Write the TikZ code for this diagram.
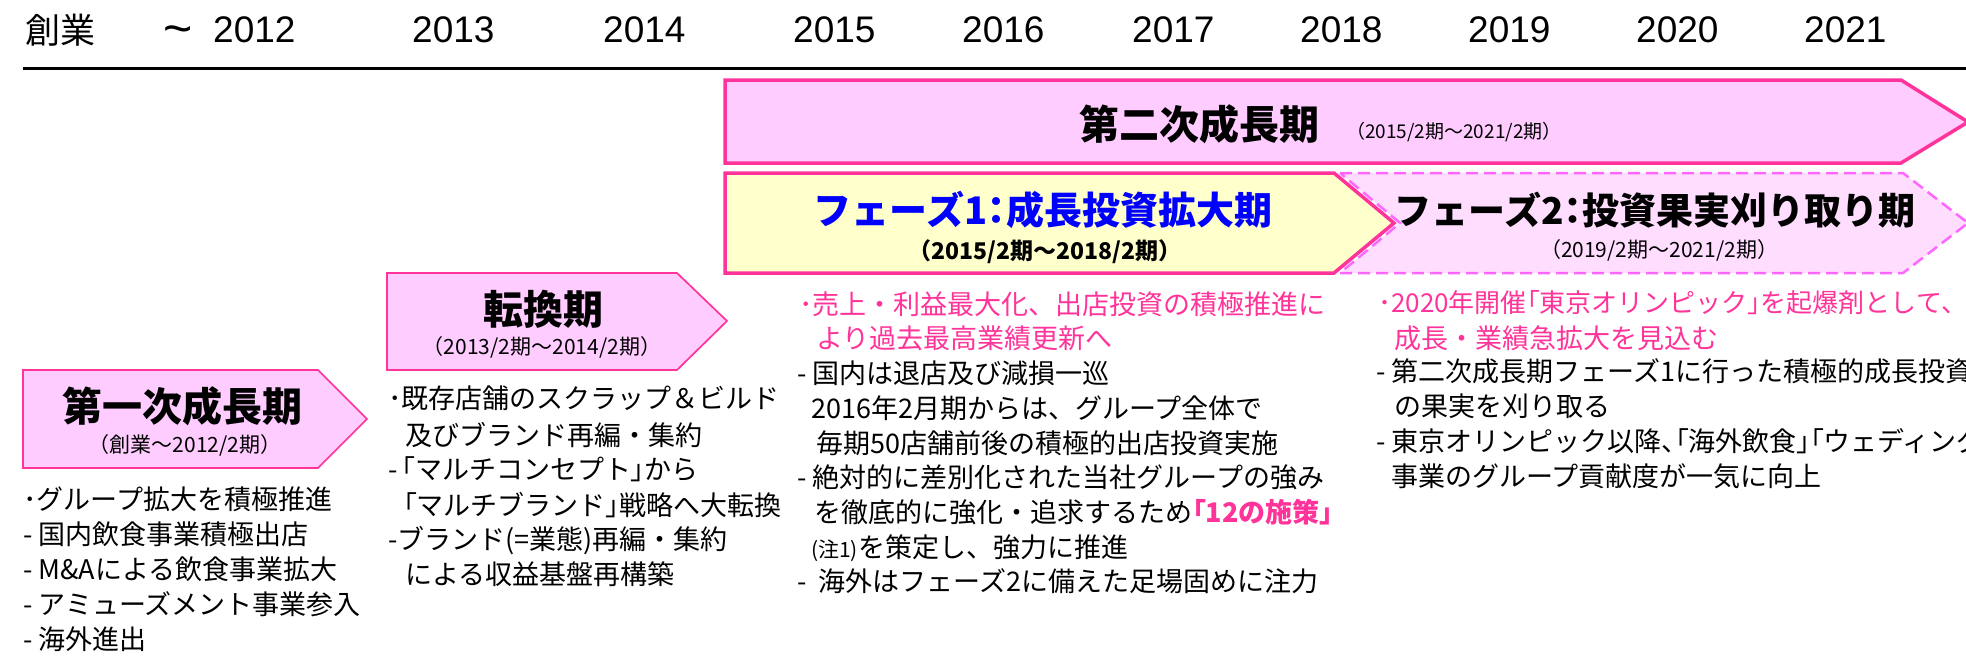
\documentclass[tikz,border=0pt]{standalone}
\usepackage{fontspec}
\setmainfont{Noto Sans CJK JP}
\newfontfamily\arialf{Liberation Sans}
\newcommand{\pb}[1]{{\addfontfeature{RawFeature=+palt}#1}}
\definecolor{pk}{HTML}{FF3399}
\definecolor{pkfill}{HTML}{FFCCFF}
\definecolor{pklight}{HTML}{FFDDFF}
\definecolor{pkdash}{HTML}{FF66FF}
\definecolor{yel}{HTML}{FFFFCC}
\definecolor{blu}{HTML}{0000FF}
\begin{document}
\begin{tikzpicture}[x=1pt,y=-1pt,
  yr/.style={anchor=base west,inner sep=0pt,font=\arialf\fontsize{37}{40}\selectfont},
  hd/.style={anchor=base west,inner sep=0pt,font=\fontsize{35}{38}\selectfont},
  txa/.style={anchor=base west,inner sep=0pt,font=\fontsize{27}{30}\selectfont},
  txb/.style={anchor=base west,inner sep=0pt,font=\fontsize{27}{30}\selectfont},
  ttl/.style={anchor=base,inner sep=0pt,font=\bfseries\fontsize{40}{44}\selectfont},
  sub/.style={anchor=base,inner sep=0pt,font=\fontsize{21}{24}\selectfont},
  bigbox/.style={draw=pk,line width=3.5pt,line join=miter},
  smallbox/.style={draw=pk,fill=pkfill,line width=1.7pt,line join=miter}
]
\useasboundingbox (0,0) rectangle (1966,662);
\clip (0,0) rectangle (1966,662);

% header
\node[hd] (h0) at (25,43) {創業};
\node[yr,font=\arialf\fontsize{50}{52}\selectfont] (ht) at (163,45) {\char`~};
\node[yr] (y12) at (213,42) {2012};
\node[yr] (y13) at (412,42) {2013};
\node[yr] (y14) at (603,42) {2014};
\node[yr] (y15) at (793,42) {2015};
\node[yr] (y16) at (962,42) {2016};
\node[yr] (y17) at (1132,42) {2017};
\node[yr] (y18) at (1300,42) {2018};
\node[yr] (y19) at (1468,42) {2019};
\node[yr] (y20) at (1636,42) {2020};
\node[yr] (y21) at (1804,42) {2021};
\draw[line width=3pt] (23,68) -- (1966,68);

% big box
\draw[bigbox,fill=pkfill] (725,80) -- (1901,80) -- (1968,122) -- (1901,163) -- (725,163) -- cycle;
\node[ttl] (t2) at (1199,139) {第二次成長期};
\node[anchor=base west,inner sep=0pt,font=\fontsize{19}{22}\selectfont] (t2s) at (1346,138) {（2015/2期～2021/2期）};

% phase 2 (dashed)
\draw[draw=pkdash,fill=pklight,line width=2.5pt,dash pattern=on 12pt off 6pt]
  (1340,173) -- (1903,173) -- (1968,223) -- (1903,273) -- (1340,273) -- (1400,223) -- cycle;
% phase 1
\draw[bigbox,fill=yel] (725,173) -- (1334,173) -- (1394,223) -- (1334,273) -- (725,273) -- cycle;
\node[ttl,text=blu,font=\bfseries\fontsize{38}{42}\selectfont] (p1) at (1043,224) {フェーズ1\pb{：}成長投資拡大期};
\node[sub,font=\bfseries\fontsize{23}{26}\selectfont] (p1s) at (1045,259) {（2015/2期～2018/2期）};
\node[ttl,font=\bfseries\fontsize{37}{42}\selectfont] (p2) at (1655,224) {フェーズ2\pb{：}投資果実刈り取り期};
\node[sub] (p2s) at (1659,257) {（2019/2期～2021/2期）};

% small boxes
\draw[smallbox] (23,370) -- (318,370) -- (367,419) -- (318,468) -- (23,468) -- cycle;
\node[ttl] (b1) at (182,421) {第一次成長期};
\node[sub] (b1s) at (185,452) {（創業～2012/2期）};
\draw[smallbox] (387,273) -- (677,273) -- (727,321) -- (677,370) -- (387,370) -- cycle;
\node[ttl] (b2) at (543,324) {転換期};
\node[sub] (b2s) at (542,354) {（2013/2期～2014/2期）};

% left text
\node[txa] (l1) at (23,509) {･グループ拡大を積極推進};
\node[txa] (l2) at (23,544) {- 国内飲食事業積極出店};
\node[txa] (l3) at (23,579) {- M\&Aによる飲食事業拡大};
\node[txa] (l4) at (23,614) {- アミューズメント事業参入};
\node[txa] (l5) at (23,649) {- 海外進出};

% middle text
\node[txa] (m1) at (388,408) {･既存店舗のスクラップ＆ビルド};
\node[txa] (m2) at (405,445) {及びブランド再編・集約};
\node[txa] (m3) at (388,479) {-\hspace{4pt}\pb{「}マルチコンセプト\pb{」}から};
\node[txa] (m4) at (403,515) {\pb{「}マルチブランド\pb{」}戦略へ大転換};
\node[txa] (m5) at (388,549) {-ブランド(=業態)再編・集約};
\node[txa] (m6) at (405,584) {による収益基盤再構築};

% phase 1 text
\node[txb,text=pk] (q1) at (799,314) {･売上・利益最大化、出店投資の積極推進に};
\node[txb,text=pk] (q2) at (816,348) {より過去最高業績更新へ};
\node[txb] (q3) at (797,383) {- 国内は退店及び減損一巡};
\node[txb] (q4) at (811,418) {2016年2月期からは、グループ全体で};
\node[txb] (q5) at (816,453) {毎期50店舗前後の積極的出店投資実施};
\node[txb] (q6) at (797,487) {- 絶対的に差別化された当社グループの強み};
\node[txb] (q7) at (814,522) {を徹底的に強化・追求するため\textcolor{pk}{\bfseries \pb{「}12の施策\pb{」}}};
\node[txb] (q8) at (811,557) {{\fontsize{21}{24}\selectfont (注1)}を策定し、強力に推進};
\node[txb] (q9) at (797,591) {-\hspace{12pt}海外はフェーズ2に備えた足場固めに注力};

% phase 2 text
\node[txb,text=pk,font=\fontsize{26}{30}\selectfont] (r1) at (1378,312) {･2020年開催\pb{「}東京オリンピック\pb{」}を起爆剤として\pb{、}};
\node[txb,text=pk] (r2) at (1394,348) {成長・業績急拡大を見込む};
\node[txb] (r3) at (1376,381) {- 第二次成長期フェーズ1に行った積極的成長投資};
\node[txb] (r4) at (1394,416) {の果実を刈り取る};
\node[txb] (r5) at (1376,451) {- 東京オリンピック以降\pb{、「}海外飲食\pb{」「}ウェディング\pb{」}};
\node[txb] (r6) at (1391,486) {事業のグループ貢献度が一気に向上};
\end{tikzpicture}
\end{document}
